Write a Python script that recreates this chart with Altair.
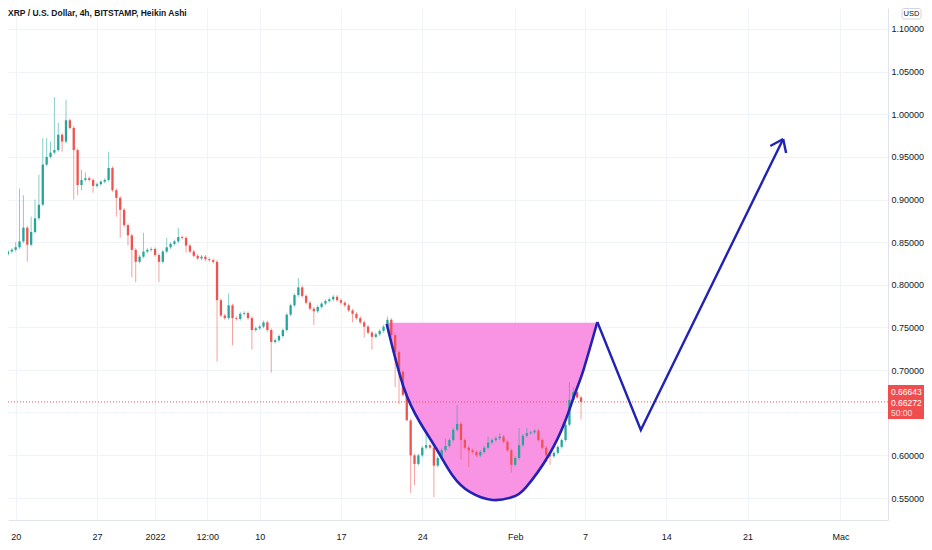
import altair as alt
import pandas as pd

# ---------------- data ----------------
# 8-hour candles starting 2021-12-19 08:00 (Heikin Ashi look), closes in USD
closes = [
    0.839, 0.841, 0.844, 0.851, 0.867, 0.847, 0.862, 0.878, 0.894, 0.941,
    0.950, 0.955, 0.958, 0.976, 0.968, 0.993, 0.984, 0.958, 0.917, 0.923,
    0.925, 0.923, 0.916, 0.918, 0.921, 0.923, 0.937, 0.911, 0.902, 0.888,
    0.870, 0.858, 0.841, 0.827, 0.833, 0.839, 0.841, 0.842, 0.835, 0.827,
    0.839, 0.844, 0.848, 0.851, 0.856, 0.855, 0.846, 0.839, 0.834, 0.831,
    0.833, 0.830, 0.829, 0.827, 0.782, 0.764, 0.761, 0.776, 0.761, 0.760,
    0.766, 0.767, 0.761, 0.747, 0.749, 0.751, 0.756, 0.747, 0.733, 0.735,
    0.740, 0.747, 0.765, 0.776, 0.788, 0.797, 0.787, 0.779, 0.772, 0.769,
    0.774, 0.778, 0.781, 0.783, 0.786, 0.782, 0.779, 0.776, 0.770, 0.766,
    0.761, 0.756, 0.751, 0.744, 0.739, 0.742, 0.746, 0.751, 0.759, 0.741,
    0.721, 0.698, 0.671, 0.641, 0.600, 0.590, 0.600, 0.609, 0.612, 0.609,
    0.588, 0.597, 0.606, 0.611, 0.618, 0.630, 0.637, 0.618, 0.609, 0.606,
    0.604, 0.600, 0.604, 0.609, 0.615, 0.618, 0.620, 0.622, 0.616, 0.606,
    0.589, 0.597, 0.612, 0.623, 0.626, 0.627, 0.629, 0.618, 0.609, 0.600,
    0.599, 0.603, 0.610, 0.618, 0.636, 0.665, 0.674, 0.668, 0.6627,
]
first_open = 0.836
start_time = "2021-12-19 08:00"
candle_hours = 8

# notable wick extremes (candle index -> price)
wick_hi = {2: 0.850, 3: 0.913, 4: 0.905, 6: 0.880, 7: 0.900, 8: 0.929, 9: 0.972,
           10: 0.972, 11: 0.968, 12: 1.020, 13: 0.990, 15: 1.017, 19: 0.935,
           20: 0.932, 26: 0.956, 35: 0.861, 41: 0.855, 44: 0.867, 57: 0.790,
           75: 0.808, 98: 0.763, 108: 0.626, 113: 0.620, 116: 0.659, 124: 0.622,
           127: 0.626, 132: 0.632, 134: 0.632, 145: 0.686, 146: 0.680}
wick_lo = {5: 0.827, 14: 0.956, 17: 0.900, 18: 0.905, 19: 0.911, 22: 0.908,
           28: 0.880, 29: 0.855, 31: 0.846, 32: 0.809, 33: 0.803, 39: 0.803,
           46: 0.838, 54: 0.710, 58: 0.729, 63: 0.724, 68: 0.697, 79: 0.753,
           89: 0.756, 92: 0.738, 94: 0.724, 100: 0.680, 101: 0.660, 103: 0.650,
           104: 0.556, 105: 0.565, 110: 0.551, 117: 0.595, 119: 0.586, 130: 0.580,
           139: 0.592, 140: 0.589, 148: 0.642}
min_wick = 0.002

# cup drawing anchors (time, price)
cup_t = ["2022-01-20T22:30", "2022-01-22T09:20", "2022-01-23T20:00", "2022-01-25T06:40",
         "2022-01-26T15:20", "2022-01-28T02:10", "2022-01-30T01:10", "2022-01-31T18:10",
         "2022-02-01T22:35", "2022-02-03T21:35", "2022-02-05T08:10", "2022-02-06T04:35",
         "2022-02-06T20:55", "2022-02-08T01:40"]
cup_p = [0.7541, 0.6802, 0.6380, 0.6063, 0.5758, 0.5571, 0.5477, 0.5512,
         0.5629, 0.6005, 0.6415, 0.6743, 0.7001, 0.7564]
cup_rim = 0.7556

# zig-zag projection + arrow head
zig_t = ["2022-02-08T01:40", "2022-02-11T19:30", "2022-02-24T01:40"]
zig_p = [0.7564, 0.6298, 0.9710]
head_t = ["2022-02-22T23:00", "2022-02-24T01:40", "2022-02-24T07:40", "2022-02-24T01:40"]
head_p = [0.9628, 0.9710, 0.9546, 0.9710]
head_seg = ["a", "a", "b", "b"]

last_price = 0.66643
last_close = 0.66272
title_text = "XRP / U.S. Dollar, 4h, BITSTAMP, Heikin Ashi"
tag_lines = ["0.66643", "0.66272", "50:00"]

# visible price labels (0.65000 is hidden under the price tag in the original)
y_ticks = [0.55, 0.60, 0.70, 0.75, 0.80, 0.85, 0.90, 0.95, 1.00, 1.05, 1.10]
hidden_grid = [0.65]

# ---------------- tables ----------------
t0 = pd.Timestamp(start_time)
rows = []
prev = first_open
for i, c in enumerate(closes):
    o = prev
    t = (t0 + pd.Timedelta(hours=candle_hours * i)).strftime("%Y-%m-%dT%H:%M:%S")
    hi = wick_hi.get(i, max(o, c) + min_wick)
    lo = wick_lo.get(i, min(o, c) - min_wick)
    rows.append({"t": t, "o": o, "c": c, "hi": hi, "lo": lo,
                 "dir": "up" if c >= o else "down"})
    prev = c
candles = pd.DataFrame(rows)
cup = pd.DataFrame({"t": cup_t, "p": cup_p})
zig = pd.DataFrame({"t": zig_t, "p": zig_p, "k": list(range(len(zig_t)))})
head = pd.DataFrame({"t": head_t, "p": head_p, "seg": head_seg, "k": [0, 1, 0, 1]})
last_df = pd.DataFrame({"p": [last_close]})

# ---------------- scales / axes ----------------
FONT = "Liberation Sans"
TXT = "#131722"
GRID = "#f0f3fa"
LINE = "#e0e3eb"
RED = "#ef5350"
W, H = 880, 512
PAD_R, PAD_B = 36, 30

xs = alt.Scale(domain=[alt.DateTime(year=2021, month=12, date=19, hours=18, minutes=29),
                       alt.DateTime(year=2022, month=3, date=4, hours=15, minutes=50)])
ys = alt.Scale(domain=[0.52425, 1.12462], nice=False, zero=False)

x_vals = [alt.DateTime(year=2021, month=12, date=20), alt.DateTime(year=2021, month=12, date=27),
          alt.DateTime(year=2022, month=1, date=1), alt.DateTime(year=2022, month=1, date=5, hours=12),
          alt.DateTime(year=2022, month=1, date=10), alt.DateTime(year=2022, month=1, date=17),
          alt.DateTime(year=2022, month=1, date=24), alt.DateTime(year=2022, month=2, date=1),
          alt.DateTime(year=2022, month=2, date=7), alt.DateTime(year=2022, month=2, date=14),
          alt.DateTime(year=2022, month=2, date=21), alt.DateTime(year=2022, month=3, date=1)]
label_expr = ("month(datum.value)==0 && date(datum.value)==1 ? '2022' : "
              "(month(datum.value)==1 && date(datum.value)==1 ? 'Feb' : "
              "(month(datum.value)==2 && date(datum.value)==1 ? 'Mac' : "
              "(hours(datum.value)==12 ? '12:00' : toString(date(datum.value)))))")
xaxis = alt.Axis(values=x_vals, labelExpr=label_expr, title=None, ticks=False,
                 labelPadding=12, labelFontSize=9, labelFont=FONT, labelColor=TXT,
                 gridColor=GRID, domainColor=LINE, labelOverlap=False, labelFlush=False)
yaxis = alt.Axis(orient="right", values=y_ticks, format=".5f", title=None, ticks=False,
                 labelPadding=3, labelFontSize=9, labelFont=FONT, labelColor=TXT,
                 gridColor=GRID, domainColor=LINE)

X = alt.X("t:T", scale=xs, axis=xaxis)
color = alt.Color("dir:N", scale=alt.Scale(domain=["up", "down"], range=["#26a69a", RED]),
                  legend=None)

extra_grid = alt.Chart(pd.DataFrame({"p": hidden_grid})).mark_rule(
    stroke=GRID, strokeWidth=1).encode(y=alt.Y("p:Q", scale=ys, axis=yaxis))

area = alt.Chart(cup).mark_area(color="#f993e4", opacity=1, interpolate="natural").encode(
    x=X, y=alt.Y("p:Q", scale=ys, axis=yaxis), y2=alt.Y2(datum=cup_rim))

wicks = alt.Chart(candles).mark_rule(strokeWidth=1, opacity=0.55, clip=True).encode(
    x=X, y=alt.Y("lo:Q", scale=ys, axis=yaxis), y2="hi:Q", color=color)

bodies = alt.Chart(candles).mark_bar(size=2.3, clip=True).encode(
    x=X, y=alt.Y("o:Q", scale=ys, axis=yaxis), y2="c:Q", color=color)

price_line = alt.Chart(last_df).mark_rule(stroke=RED, strokeDash=[1, 2], strokeWidth=1).encode(
    y=alt.Y("p:Q", scale=ys, axis=yaxis))

BLUE = "#2222b4"
cup_line = alt.Chart(cup).mark_line(color=BLUE, strokeWidth=2.6, interpolate="natural").encode(
    x=X, y=alt.Y("p:Q", scale=ys, axis=yaxis))

zig_line = alt.Chart(zig).mark_line(color=BLUE, strokeWidth=2.4).encode(
    x=X, y=alt.Y("p:Q", scale=ys, axis=yaxis), order="k:Q")

head_line = alt.Chart(head).mark_line(color=BLUE, strokeWidth=2.4).encode(
    x=X, y=alt.Y("p:Q", scale=ys, axis=yaxis), detail="seg:N", order="k:Q")

title = alt.Chart(pd.DataFrame({"s": [title_text]})).mark_text(
    align="left", baseline="middle", fontSize=8.5, fontWeight="bold", font=FONT, color=TXT).encode(
    x=alt.value(0), y=alt.value(5), text="s:N")

usd_box = alt.Chart(pd.DataFrame({"s": ["USD"]})).mark_rect(
    fill="white", stroke="#d1d4dc", strokeWidth=1, cornerRadius=2).encode(
    x=alt.value(894), x2=alt.value(913), y=alt.value(0.5), y2=alt.value(11))
usd_txt = alt.Chart(pd.DataFrame({"s": ["USD"]})).mark_text(
    align="center", baseline="middle", fontSize=7.5, font=FONT, color=TXT).encode(
    x=alt.value(903.5), y=alt.value(6), text="s:N")

tag_rect = alt.Chart(pd.DataFrame({"s": [last_price]})).mark_rect(fill="#f04e4e").encode(
    x=alt.value(W), x2=alt.value(W + PAD_R), y=alt.value(377), y2=alt.value(411))
tag_df = pd.DataFrame({"s": tag_lines, "yy": [384, 394.5, 404.5], "op": [1.0, 1.0, 0.8]})
tag_txt = alt.Chart(tag_df).mark_text(
    align="left", baseline="middle", fontSize=8.5, font=FONT, color="white").encode(
    x=alt.value(W + 3), y=alt.Y("yy:Q", scale=None), text="s:N",
    opacity=alt.Opacity("op:Q", scale=None))

chart = alt.layer(extra_grid, area, wicks, bodies, price_line, cup_line, zig_line, head_line,
                  title, usd_box, usd_txt, tag_rect, tag_txt).properties(
    width=W, height=H, background="white",
    padding={"left": 0, "top": 0, "right": PAD_R, "bottom": PAD_B},
    autosize=alt.AutoSizeParams(type="none"),
).configure_view(stroke=None)

chart.save("out.html", embed_options={"renderer": "svg", "actions": False})
